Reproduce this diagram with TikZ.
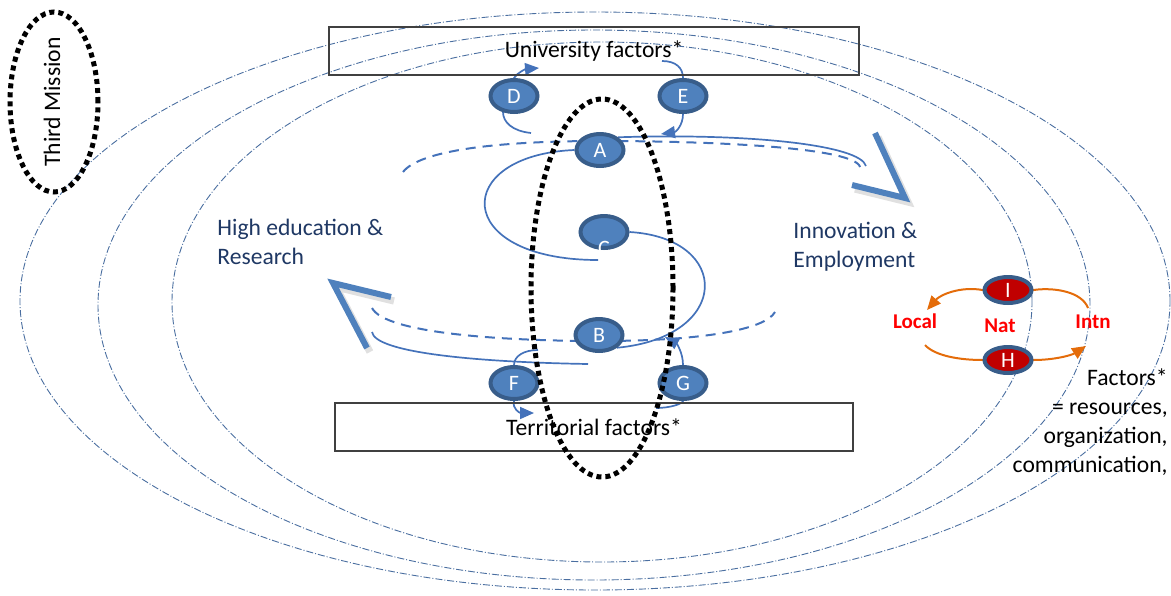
\documentclass[tikz,border=0pt]{standalone}
\usepackage{fontspec}
\setmainfont{Carlito}
\usetikzlibrary{arrows.meta,shapes.geometric,backgrounds}

\definecolor{ringblue}{RGB}{74,110,160}
\definecolor{ballblue}{RGB}{79,129,189}
\definecolor{balledge}{RGB}{56,93,138}
\definecolor{ballred}{RGB}{192,0,0}
\definecolor{loopblue}{RGB}{68,114,186}
\definecolor{navytext}{RGB}{31,56,100}
\definecolor{flowor}{RGB}{228,108,10}

\begin{document}
\begin{tikzpicture}[x=0.5pt,y=-0.5pt,>={Triangle[length=7pt,width=6pt]},
  font=\fontsize{11.8}{14.5}\selectfont,
  ball node/.style={ellipse,draw=balledge,line width=2pt,fill=ballblue,text=white,
    minimum width=23.5pt,minimum height=16pt,inner sep=0pt,font=\fontsize{11}{12}\selectfont},
  red node/.style={ball node,fill=ballred,minimum height=13pt},
  factor box/.style={draw=black!75,line width=0.6pt,minimum width=#1,minimum height=24pt},
  ring/.style={draw=ringblue,line width=0.45pt,dash pattern=on 3.5pt off 1pt on 0.5pt off 1pt},
  dot ring/.style={draw=black,line width=2.5pt,dash pattern=on 2.5pt off 2pt},
  loop line/.style={draw=loopblue,line width=0.85pt},
  dash line/.style={loop line,line width=1pt,dash pattern=on 5pt off 3.5pt},
  flow/.style={draw=flowor,line width=1pt},
  chevron/.style={draw=ballblue,line width=3pt},
  chevron shadow/.style={draw=black!35,opacity=0.35,line width=3.6pt,shift={(3,4)}},
  scale label/.style={text=red,inner sep=0pt,font=\fontsize{10.5}{12}\selectfont\bfseries}]

  \useasboundingbox (0,0) rectangle (1171,595);

  \node[factor box=265pt] (univ) at (594,51) {University factors*};
  \node[factor box=259pt] (terr) at (594,427) {Territorial factors*};

  \node[rotate=90] (third) at (52,102) {Third Mission};
  \node[text=navytext,align=left,anchor=base west,inner sep=0pt] (edu) at (217,264)
    {High education \&\\Research};
  \node[text=navytext,align=left,anchor=base west,inner sep=0pt] (inno) at (793,267)
    {Innovation \&\\Employment};
  \node[align=right,anchor=base east,inner sep=0pt] (fact) at (1168,472)
    {Factors*\\= resources,\\organization,\\communication,};

  \node[ball node] (A) at (600,150) {A};
  \node[ball node,label={[text=white,font=\fontsize{11}{12}\selectfont,yshift=-8.2pt]center:C}] (C) at (604,232) {};
  \node[ball node] (B) at (599,335) {B};
  \node[ball node] (D) at (514,96) {D};
  \node[ball node] (E) at (683,96) {E};
  \node[ball node] (F) at (514,383) {F};
  \node[ball node] (G) at (683,383) {G};

  \node[red node] (I) at (1008,290) {I};
  \node[red node] (H) at (1008,360) {H};
  \node[scale label,anchor=base] (loc) at (915,328) {Local};
  \node[scale label,anchor=base] (nat) at (1000,332) {Nat};
  \node[scale label,anchor=base] (intn) at (1093,328) {Intn};

  \begin{pgfonlayer}{background}
    % the three circles of influence
    \draw[ring] (595,301) ellipse [x radius=287.5pt,y radius=144.5pt];
    \draw[ring] (594,305) ellipse [x radius=248pt,y radius=137.5pt];
    \draw[ring] (602,302) ellipse [x radius=215pt,y radius=130pt];

    % spiral through A, C and B
    \draw[dash line] (403,172) .. controls (420,150) and (500,141) .. (600,141)
      .. controls (720,141) and (855,148) .. (860,167);
    \draw[loop line] (A.north east) .. controls (750,133) and (860,145) .. (866,166);
    \draw[loop line] (A.west) .. controls (451,155) and (451,260) .. ([shift={(-6,10)}]C.south);
    \draw[loop line] (C.east) .. controls (732,238) and (732,337) .. (B.south east);
    \draw[dash line] (372,308) .. controls (385,333) and (500,341) .. (600,341)
      .. controls (700,341) and (765,330) .. (775,312);
    \draw[loop line] ([shift={(-11,11)}]B.south) .. controls (470,362) and (375,352) .. (372,332);

    % small turns round D, E, F, G
    \draw[loop line,->] (531,133) .. controls (512,131) and (503,122) .. (503,112)
      -- (D.north) .. controls (518,72) and (526,69) .. (539,68);
    \draw[loop line,->] (662,61) .. controls (676,61) and (683,68) .. (E.north)
      -- (E.south) .. controls (683,125) and (676,132) .. (661,134);
    \draw[loop line,->] (538,350) .. controls (524,350) and (514,356) .. (F.north)
      -- (F.south) .. controls (512,409) and (520,413) .. (534,413);
    \draw[loop line,->] (656,408) .. controls (670,408) and (682,404) .. (G.south)
      -- (G.north) .. controls (683,352) and (676,343) .. (665,337);

    % local / national / international
    \draw[flow,->] (1088,308) .. controls (1082,292) and (1055,287) .. (I.east)
      -- (I.west) .. controls (960,286) and (940,295) .. (927,310);
    \draw[flow,->] (925,345) .. controls (935,356) and (960,360) .. (H.west)
      -- (H.east) .. controls (1055,360) and (1072,355) .. (1086,346);
  \end{pgfonlayer}

  \draw[chevron shadow] (875,133) -- (905,198) -- (852,185);
  \draw[chevron] (875,133) -- (905,198) -- (852,185);
  \draw[chevron shadow] (367,348) -- (333,283) -- (391,297);
  \draw[chevron] (367,348) -- (333,283) -- (391,297);

  \draw[dot ring] (54,102) ellipse [x radius=22pt,y radius=45pt];
  \draw[dot ring] (602,288) ellipse [x radius=35.5pt,y radius=94.5pt];
\end{tikzpicture}
\end{document}
